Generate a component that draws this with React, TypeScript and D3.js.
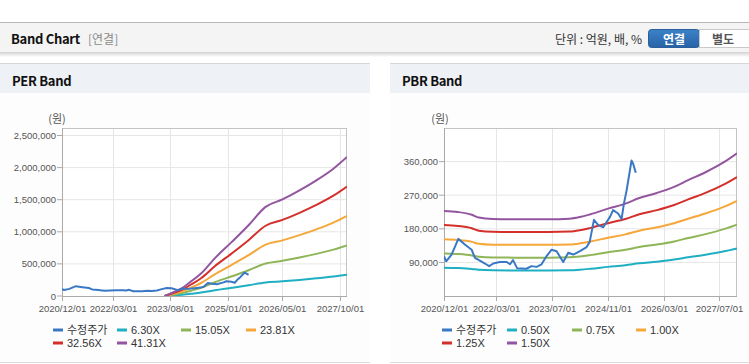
import React from 'react';
import * as d3 from 'd3';

const W = 749;
const H = 364;
const FONT = '"Noto Sans CJK KR", "Noto Sans", "Liberation Sans", sans-serif';
const LFONT = '"Liberation Sans", "Noto Sans CJK KR", sans-serif';

// 수정주가 (adjusted price, won)
const priceDates = [
  '2020-12-01', '2020-12-20', '2021-02-05', '2021-04-05', '2021-06-01', '2021-07-30', '2021-08-28',
  '2021-10-25', '2021-11-23', '2021-12-30', '2022-02-04', '2022-04-02', '2022-06-01', '2022-06-30',
  '2022-07-26', '2022-09-01', '2022-11-20', '2023-01-03', '2023-02-16', '2023-04-01', '2023-05-15',
  '2023-06-28', '2023-08-10', '2023-10-07', '2023-11-20', '2024-01-03', '2024-03-01', '2024-04-28',
  '2024-05-25', '2024-07-01', '2024-08-08', '2024-09-20', '2024-11-18', '2024-12-15', '2025-01-28',
  '2025-02-27', '2025-03-20', '2025-04-12', '2025-05-25', '2025-06-08', '2025-07-01',
];
const priceValues = [
  107000, 93000, 111000, 153000, 138000, 124000, 102000,
  92000, 87000, 80000, 87000, 91000, 91000, 85000,
  96000, 74000, 73000, 80000, 78000, 85000, 107000,
  124000, 120000, 91000, 116000, 111000, 120000, 131000,
  145000, 204000, 190000, 184000, 212000, 230000, 221000,
  206000, 248000, 283000, 363000, 354000, 330000,
];

// EPS used for PER band (won)
const epsDates = [
  '2023-06-10', '2023-09-01', '2023-12-01', '2024-02-01', '2024-05-01', '2024-09-01', '2025-02-01',
  '2025-07-01', '2025-12-01', '2026-05-01', '2026-10-01', '2027-03-01', '2027-08-01', '2027-12-01',
];
const epsValues = [0, 1500, 3500, 5500, 8500, 14200, 20400, 26700, 33600, 36400, 39800, 43600, 48000, 52400];

// BPS used for PBR band (won)
const bpsDates = [
  '2020-12-01', '2021-04-01', '2021-08-01', '2021-10-01', '2022-02-01', '2022-08-01', '2023-06-01',
  '2023-12-01', '2024-03-01', '2024-06-01', '2024-11-01', '2025-04-01', '2025-08-01', '2026-01-01',
  '2026-06-01', '2026-10-01', '2027-03-01', '2027-08-01', '2027-12-01',
];
const bpsValues = [
  152000, 150000, 145000, 140000, 137500, 137000, 137000,
  138000, 141000, 146000, 156000, 165000, 175000, 184000,
  195000, 207000, 221000, 238000, 255000,
];

const perMultiples = [6.3, 15.05, 23.81, 32.56, 41.31];
const perLabels = ['6.30X', '15.05X', '23.81X', '32.56X', '41.31X'];
const pbrMultiples = [0.5, 0.75, 1.0, 1.25, 1.5];
const pbrLabels = ['0.50X', '0.75X', '1.00X', '1.25X', '1.50X'];
const bandColors = ['#1eafc3', '#8fb559', '#f5a73a', '#d3302c', '#93559f'];
const priceColor = '#3a78c5';
const priceLabel = '수정주가';

const perXTicks = ['2020/12/01', '2022/03/01', '2023/08/01', '2025/01/01', '2026/05/01', '2027/10/01'];
const pbrXTicks = ['2020/12/01', '2022/03/01', '2023/07/01', '2024/11/01', '2026/03/01', '2027/07/01'];
const perYTicks = [0, 500000, 1000000, 1500000, 2000000, 2500000];
const pbrYTicks = [90000, 180000, 270000, 360000];

const parse = d3.timeParse('%Y-%m-%d');
const parseTick = d3.timeParse('%Y/%m/%d');
const fmt = d3.format(',');

type Pt = { d: Date; v: number };

interface PanelProps {
  id: string;
  title: string;
  px: number;
  pw: number;
  plot: { l: number; r: number; t: number; b: number };
  yMax: number;
  yMaxPx: number;
  xTicks: string[];
  yTicks: number[];
  baseDates: string[];
  baseValues: number[];
  multiples: number[];
  labels: string[];
  legendX: number[];
  unitX: number;
  yLabelX: number;
}

function Panel(p: PanelProps) {
  const x = d3
    .scaleTime()
    .domain([parse('2020-12-01') as Date, parse('2027-12-01') as Date])
    .range([p.plot.l, p.plot.r]);
  const y = d3.scaleLinear().domain([0, p.yMax]).range([p.plot.b, p.yMaxPx]);

  const price: Pt[] = priceDates.map((s, i) => ({ d: parse(s) as Date, v: priceValues[i] }));
  const base: Pt[] = p.baseDates.map((s, i) => ({ d: parse(s) as Date, v: p.baseValues[i] }));

  const bandLine = d3
    .line<Pt>()
    .x((d) => x(d.d))
    .y((d) => y(d.v))
    .curve(d3.curveMonotoneX);
  const priceLine = d3
    .line<Pt>()
    .x((d) => x(d.d))
    .y((d) => y(d.v));

  const items = [
    { label: priceLabel, color: priceColor },
    ...p.labels.map((l, i) => ({ label: l, color: bandColors[i] })),
  ];

  return (
    <g>
      <rect x={p.px} y={63} width={p.pw} height={1} fill="#d6d6d6" />
      <rect x={p.px} y={64} width={p.pw} height={29} fill="#eef2f7" />
      <rect x={p.px} y={93} width={p.pw} height={269} fill="#fdfdfd" />
      <rect x={p.px} y={362} width={p.pw} height={1} fill="#d9d9d9" />
      <text x={p.px + 12} y={80} fontFamily={FONT} fontWeight="bold" fontSize={13} letterSpacing={-0.3} fill="#111" dominantBaseline="central">
        {p.title}
      </text>
      <text x={p.unitX} y={118} fontFamily={FONT} fontSize={11} fill="#555" textAnchor="middle" dominantBaseline="central">
        (원)
      </text>
      <defs>
        <clipPath id={`clip-${p.id}`}>
          <rect x={p.plot.l} y={p.plot.t} width={p.plot.r - p.plot.l} height={p.plot.b - p.plot.t} />
        </clipPath>
      </defs>
      <rect x={p.plot.l} y={p.plot.t} width={p.plot.r - p.plot.l} height={p.plot.b - p.plot.t} fill="#fff" />
      {p.yTicks.map((t) => (
        <g key={`y${t}`}>
          {t > 0 && <line x1={p.plot.l} x2={p.plot.r} y1={y(t)} y2={y(t)} stroke="#e6e6e6" />}
          <line x1={p.plot.l - 5} x2={p.plot.l} y1={y(t)} y2={y(t)} stroke="#aaa" />
          <text x={p.yLabelX} y={y(t)} fontFamily={LFONT} fontSize={9.5} fill="#555" textAnchor="end" dominantBaseline="central">
            {fmt(t)}
          </text>
        </g>
      ))}
      {p.xTicks.map((t) => {
        const xx = Math.round(x(parseTick(t) as Date)) + 0.5;
        return (
          <g key={`x${t}`}>
            <line x1={xx} x2={xx} y1={p.plot.t} y2={p.plot.b} stroke="#e6e6e6" />
            <line x1={xx} x2={xx} y1={p.plot.b} y2={p.plot.b + 5} stroke="#aaa" />
            <text x={xx} y={308} fontFamily={LFONT} fontSize={9.5} fill="#555" textAnchor="middle" dominantBaseline="central">
              {t}
            </text>
          </g>
        );
      })}
      <rect
        x={p.plot.l + 0.5}
        y={p.plot.t + 0.5}
        width={p.plot.r - p.plot.l - 1}
        height={p.plot.b - p.plot.t}
        fill="none"
        stroke="#c4c4c4"
      />
      <line x1={p.plot.l + 0.5} x2={p.plot.l + 0.5} y1={p.plot.t} y2={p.plot.b + 0.5} stroke="#aaa" />
      <line x1={p.plot.l} x2={p.plot.r} y1={p.plot.b + 0.5} y2={p.plot.b + 0.5} stroke="#aaa" />
      <g clipPath={`url(#clip-${p.id})`}>
        {p.multiples.map((m, i) => (
          <path
            key={m}
            d={bandLine(base.map((b) => ({ d: b.d, v: b.v * m }))) || ''}
            fill="none"
            stroke={bandColors[i]}
            strokeWidth={2}
          />
        ))}
        <path d={priceLine(price) || ''} fill="none" stroke={priceColor} strokeWidth={2} strokeLinejoin="round" />
      </g>
      {items.map((it, i) => {
        const row = i < 4 ? 0 : 1;
        const col = i < 4 ? i : i - 4;
        const tx = p.legendX[col];
        const ty = row === 0 ? 330 : 343;
        return (
          <g key={it.label}>
            <line x1={tx - 14} x2={tx - 4} y1={ty} y2={ty} stroke={it.color} strokeWidth={3} />
            <text x={tx} y={ty} fontFamily={LFONT} fontSize={11} fill="#333" dominantBaseline="central">
              {it.label}
            </text>
          </g>
        );
      })}
    </g>
  );
}

export default function App() {
  return (
    <svg
      width={W}
      height={H}
      viewBox={`0 0 ${W} ${H}`}
      style={{ position: 'absolute', left: 0, top: 0, background: '#fff' }}
    >
      <defs>
        <linearGradient id="shadow" x1="0" y1="0" x2="0" y2="1">
          <stop offset="0" stopColor="#000" stopOpacity={0.18} />
          <stop offset="1" stopColor="#000" stopOpacity={0} />
        </linearGradient>
        <linearGradient id="btn" x1="0" y1="0" x2="0" y2="1">
          <stop offset="0" stopColor="#3c82c8" />
          <stop offset="1" stopColor="#2862a6" />
        </linearGradient>
      </defs>
      <rect x={0} y={22} width={W} height={1} fill="#b8b8b8" />
      <rect x={0} y={23} width={W} height={29} fill="#f4f4f4" />
      <rect x={0} y={52} width={W} height={5} fill="url(#shadow)" />
      <text x={11} y={38} fontFamily={FONT} fontWeight="bold" fontSize={13} letterSpacing={-0.3} fill="#111" dominantBaseline="central">
        Band Chart
      </text>
      <text x={88} y={38} fontFamily={FONT} fontSize={12} fill="#8a8a8a" dominantBaseline="central">
        [연결]
      </text>
      <text x={642} y={38} fontFamily={FONT} fontSize={12} fill="#333" textAnchor="end" dominantBaseline="central">
        단위 : 억원, 배, %
      </text>
      <rect x={648.5} y={29.5} width={51} height={18} rx={3} fill="url(#btn)" stroke="#2a5f9c" />
      <text x={674} y={38.5} fontFamily={FONT} fontWeight="bold" fontSize={12} fill="#fff" textAnchor="middle" dominantBaseline="central">
        연결
      </text>
      <rect x={699.5} y={29.5} width={55} height={18} fill="#fff" stroke="#c9c9c9" />
      <text x={723} y={38.5} fontFamily={FONT} fontWeight="bold" fontSize={12} fill="#555" textAnchor="middle" dominantBaseline="central">
        별도
      </text>

      <Panel
        id="per"
        title="PER Band"
        px={0}
        pw={370}
        plot={{ l: 62, r: 347, t: 128, b: 296 }}
        yMax={2500000}
        yMaxPx={135.5}
        xTicks={perXTicks}
        yTicks={perYTicks}
        baseDates={epsDates}
        baseValues={epsValues}
        multiples={perMultiples}
        labels={perLabels}
        legendX={[67, 131, 195, 260]}
        unitX={57}
        yLabelX={56}
      />
      <Panel
        id="pbr"
        title="PBR Band"
        px={390}
        pw={359}
        plot={{ l: 444, r: 737, t: 128, b: 296 }}
        yMax={450000}
        yMaxPx={128}
        xTicks={pbrXTicks}
        yTicks={pbrYTicks}
        baseDates={bpsDates}
        baseValues={bpsValues}
        multiples={pbrMultiples}
        labels={pbrLabels}
        legendX={[456, 521, 586, 650]}
        unitX={440}
        yLabelX={438}
      />
    </svg>
  );
}
